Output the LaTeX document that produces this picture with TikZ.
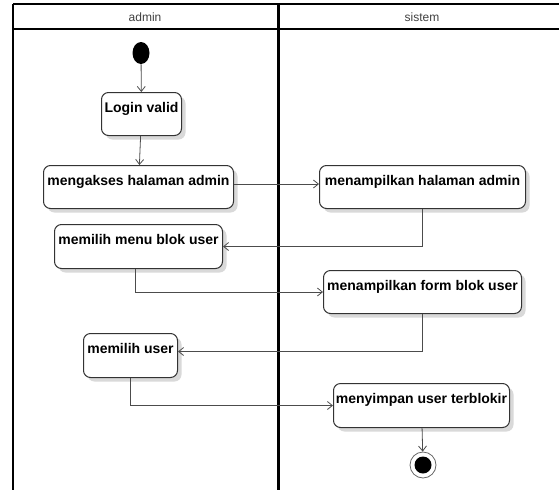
\documentclass[tikz,border=0pt]{standalone}
\usepackage{fontspec}
\setmainfont{Liberation Sans}
\usetikzlibrary{arrows.meta,shapes.geometric,shadows}

\begin{document}
\begin{tikzpicture}[x=1pt,y=-1pt,
  % activity box: #1 width, #2 height; placed by its top-left corner
  act/.style 2 args={draw=black!80, line width=1pt, rounded corners=7pt, fill=white,
    font=\fontsize{14}{16}\selectfont\bfseries, inner xsep=1pt, inner ysep=0pt,
    minimum width=#1, text height=20pt, text depth=#2-20pt, anchor=north west,
    drop shadow={shadow xshift=4pt, shadow yshift=-4pt, fill=black!15, opacity=1}},
  flow/.style={draw=black!70, line width=0.8pt, -{Straight Barb[length=5pt,width=8pt]}},
  lane/.style={font=\fontsize{12}{14}\selectfont, text=black!75}
]
\useasboundingbox (0,0) rectangle (559,490);

% swimlane frame
\draw[line width=2pt] (13,4) -- (559,4);
\draw[line width=1.2pt] (13,29) -- (559,29);
\draw[line width=1.2pt] (13,4) -- (13,490);
\draw[line width=3pt] (278,4) -- (278,490);
\node[lane] (laneA) at (145,17) {admin};
\node[lane] (laneS) at (422,17) {sistem};

% start and end
\node[ellipse, fill=black, minimum width=17, minimum height=22, inner sep=0pt] (start) at (141,53) {};
\node[circle, draw=black!60, line width=0.8pt, fill=white, minimum size=26, inner sep=0pt] (end) at (423,465) {};
\node[circle, fill=black, minimum size=17, inner sep=0pt] (endcore) at (end) {};

% activities
\node[act={80}{43}]  (login) at (101,92)  {Login valid};
\node[act={190}{43}] (akses) at (43,165)  {mengakses halaman admin};
\node[act={168}{44}] (menu)  at (54,224)  {memilih menu blok user};
\node[act={206}{43}] (tampil) at (319,165) {menampilkan halaman admin};
\node[act={198}{43}] (form)  at (323,270) {menampilkan form blok user};
\node[act={94}{44}]  (pilih) at (83,333)  {memilih user};
\node[act={176}{44}] (simpan) at (333,383) {menyimpan user terblokir};

% control flow
\draw[flow] (start) -- (login);
\draw[flow] (login) -- (akses);
\draw[flow] ([yshift=3pt]akses.east) -- ([yshift=3pt]tampil.west);
\draw[flow] (tampil.south) |- (menu.east);
\draw[flow] ([xshift=-3pt]menu.south) |- (form.west);
\draw[flow] (form.south) |- ([yshift=4pt]pilih.east);
\draw[flow] (pilih.south) |- (simpan.west);
\draw[flow] (simpan) -- (end);
\end{tikzpicture}
\end{document}
